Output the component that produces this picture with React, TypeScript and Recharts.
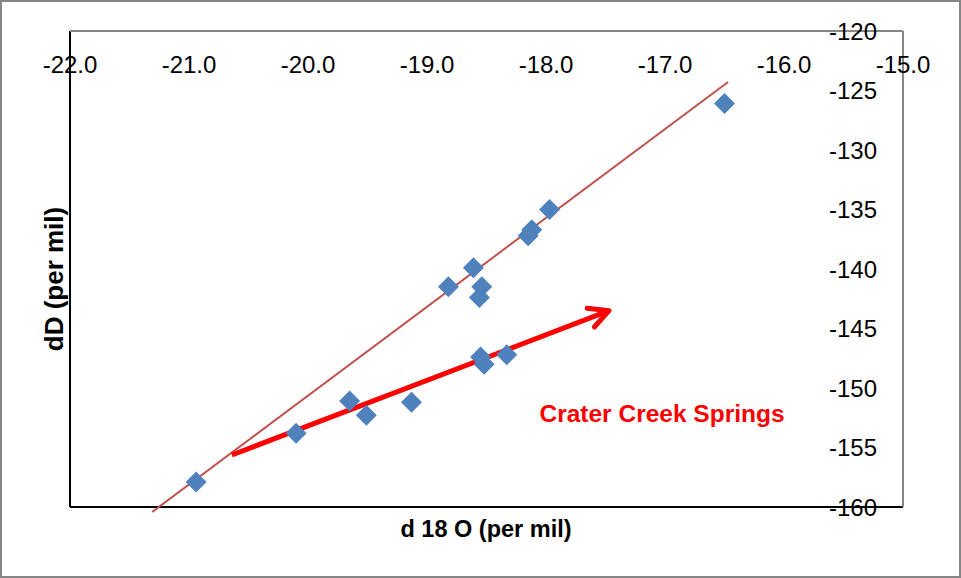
import React from "react";
import {
  ScatterChart,
  Scatter,
  XAxis,
  YAxis,
  ReferenceLine,
  ReferenceDot,
} from "recharts";

// Isotope samples
const d18O = [
  -16.5, -17.97, -18.12, -18.15, -18.61, -18.82, -18.54, -18.56, -18.55, -18.52,
  -18.33, -19.65, -19.51, -19.13, -20.1, -20.94,
];
const dD = [
  -126.1, -135.0, -136.7, -137.2, -139.9, -141.5, -141.5, -142.4, -147.4, -148.0,
  -147.2, -151.1, -152.3, -151.2, -153.8, -157.9,
];

const xTicks = [-22, -21, -20, -19, -18, -17, -16, -15];
const yTicks = [-160, -155, -150, -145, -140, -135, -130, -125, -120];

// meteoric water trend line and the Crater Creek arrow (end points)
const trendX = [-21.31, -16.47];
const trendY = [-160.42, -124.29];
const arrowX = [-20.64, -17.47];
const arrowY = [-155.63, -143.5];
const labelX = -17.025;
const labelY = -152.1;

const points = d18O.map((x, i) => ({ x, y: dD[i] }));

const FONT = "'Liberation Sans', Arial, sans-serif";

const Diamond = (props: any) => {
  const { cx, cy } = props;
  const r = 10.5;
  return (
    <polygon
      points={`${cx},${cy - r} ${cx + r},${cy} ${cx},${cy + r} ${cx - r},${cy}`}
      fill="#4F81BD"
    />
  );
};

const Arrow = (props: any) => {
  const { x1, y1, x2, y2 } = props;
  const ang = Math.atan2(y2 - y1, x2 - x1);
  const len = 22;
  const spread = (27 * Math.PI) / 180;
  const a1 = ang + Math.PI - spread;
  const a2 = ang + Math.PI + spread;
  return (
    <g>
      <line x1={x1} y1={y1} x2={x2} y2={y2} stroke="#FF0000" strokeWidth={5} />
      <polyline
        points={`${x2 + len * Math.cos(a1)},${y2 + len * Math.sin(a1)} ${x2},${y2} ${
          x2 + len * Math.cos(a2)
        },${y2 + len * Math.sin(a2)}`}
        fill="none"
        stroke="#FF0000"
        strokeWidth={5}
        strokeLinejoin="round"
        strokeLinecap="round"
      />
    </g>
  );
};

export default function App() {
  const tick = { fill: "#000", fontSize: 24, fontFamily: FONT };
  return (
    <div style={{ position: "absolute", left: 0, top: 0, width: 961, height: 578 }}>
      <ScatterChart
        width={961}
        height={578}
        margin={{ top: 31, right: 58, bottom: 71, left: 70 }}
      >
        <XAxis
          type="number"
          dataKey="x"
          domain={[-22, -15]}
          ticks={xTicks}
          interval={0}
          orientation="top"
          mirror
          axisLine={{ stroke: "#868686", strokeWidth: 2 }}
          tickLine={false}
          tickMargin={19}
          tick={tick}
          tickFormatter={(v: number) => v.toFixed(1)}
        />
        <YAxis
          type="number"
          dataKey="y"
          domain={[-160, -120]}
          ticks={yTicks}
          interval={0}
          orientation="right"
          mirror
          axisLine={{ stroke: "#868686", strokeWidth: 2 }}
          tickLine={false}
          tickMargin={20}
          tick={tick}
        />
        <ReferenceLine x={-22} stroke="#000" strokeWidth={2} />
        <ReferenceLine y={-160} stroke="#000" strokeWidth={2} />
        <ReferenceLine
          segment={[
            { x: trendX[0], y: trendY[0] },
            { x: trendX[1], y: trendY[1] },
          ]}
          stroke="#C0504D"
          strokeWidth={2}
          ifOverflow="visible"
        />
        <Scatter data={points} shape={<Diamond />} isAnimationActive={false} />
        <ReferenceLine
          segment={[
            { x: arrowX[0], y: arrowY[0] },
            { x: arrowX[1], y: arrowY[1] },
          ]}
          shape={<Arrow />}
          ifOverflow="visible"
        />
        <ReferenceDot
          x={labelX}
          y={labelY}
          r={0}
          fill="none"
          stroke="none"
          label={{
            value: "Crater Creek Springs",
            position: "center",
            fill: "#FF0000",
            fontSize: 24.5,
            fontWeight: "bold",
            fontFamily: FONT,
          }}
        />
        <text
          x={486}
          y={537}
          textAnchor="middle"
          fontSize={23.5}
          fontWeight="bold"
          fontFamily={FONT}
          fill="#000"
        >
          d 18 O (per mil)
        </text>
        <text
          x={63}
          y={279}
          transform="rotate(-90, 63, 279)"
          textAnchor="middle"
          fontSize={26}
          fontWeight="bold"
          fontFamily={FONT}
          fill="#000"
        >
          dD (per mil)
        </text>
      </ScatterChart>
      <div
        style={{
          position: "absolute",
          left: 0,
          top: 0,
          width: 961,
          height: 578,
          boxSizing: "border-box",
          border: "2px solid #868686",
          pointerEvents: "none",
        }}
      />
    </div>
  );
}
